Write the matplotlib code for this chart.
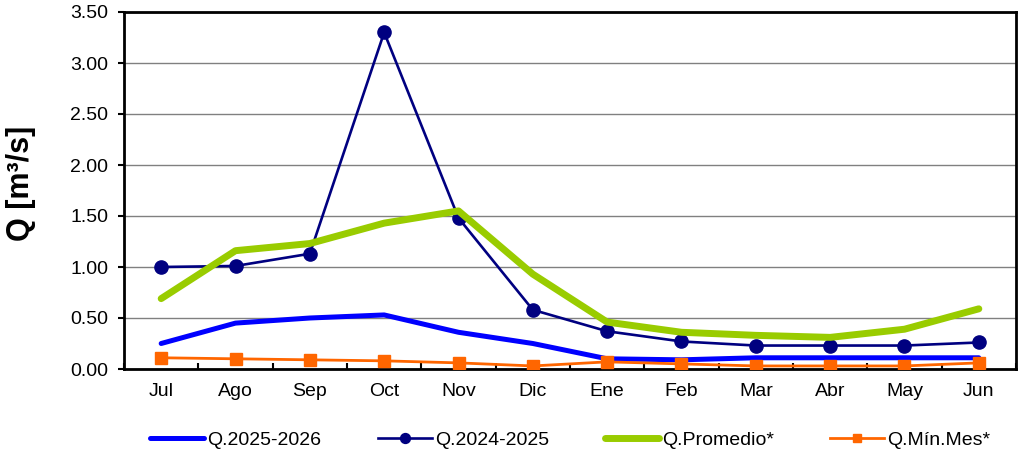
import matplotlib
matplotlib.use("Agg")
import matplotlib.pyplot as plt
import numpy as np

months = ["Jul", "Ago", "Sep", "Oct", "Nov", "Dic", "Ene", "Feb", "Mar", "Abr", "May", "Jun"]
q_2025_2026 = [0.25, 0.45, 0.50, 0.53, 0.36, 0.25, 0.10, 0.09, 0.11, 0.11, 0.11, 0.11]
q_2024_2025 = [1.00, 1.01, 1.13, 3.30, 1.48, 0.58, 0.37, 0.27, 0.23, 0.23, 0.23, 0.26]
q_promedio = [0.69, 1.16, 1.23, 1.43, 1.55, 0.93, 0.46, 0.36, 0.33, 0.31, 0.39, 0.59]
q_min_mes = [0.11, 0.10, 0.09, 0.08, 0.06, 0.03, 0.07, 0.05, 0.03, 0.03, 0.03, 0.06]
y_ticks = [0.0, 0.5, 1.0, 1.5, 2.0, 2.5, 3.0, 3.5]

plt.rcParams['font.family'] = ['Liberation Sans', 'DejaVu Sans']

W, H = 1022, 454
fig = plt.figure(figsize=(W / 100, H / 100), dpi=100)
ax = fig.add_axes([124 / W, 1 - 369 / H, (1016 - 124) / W, (369 - 12) / H])

x = np.arange(len(months))
l1, = ax.plot(x, q_2025_2026, color="#0000FF", lw=3.6, label="Q.2025-2026", solid_capstyle="round", zorder=3)
l2, = ax.plot(x, q_2024_2025, color="#000080", lw=1.9, marker="o", markersize=9.5, label="Q.2024-2025", zorder=4)
l3, = ax.plot(x, q_promedio, color="#99CC00", lw=5.0, label="Q.Promedio*", solid_capstyle="round", zorder=5)
l4, = ax.plot(x, q_min_mes, color="#FF6600", lw=2.0, marker="s", markersize=8.5, label="Q.Mín.Mes*", zorder=6)

ax.set_xlim(-0.5, len(months) - 0.5)
ax.set_ylim(0, 3.5)
ax.set_yticks(y_ticks)
ax.set_yticklabels([f"{v:.2f}" for v in y_ticks], fontsize=14)
ax.set_xticks(x)
ax.set_xticklabels(months, fontsize=14)
ax.set_xticks(np.arange(-0.5, len(months), 1), minor=True)
ax.tick_params(axis="x", which="major", length=0, pad=10)
ax.tick_params(axis="x", which="minor", length=4.5, width=1.5, direction="in")
ax.tick_params(axis="y", length=4.5, width=1.5, direction="out", pad=7)
ax.grid(axis="y", color="#808080", lw=1.0, zorder=0)
ax.set_axisbelow(True)
for s in ax.spines.values():
    s.set_linewidth(2.0)
    s.set_color("black")

fig.text(21 / W, 1 - 183 / H, "Q [m³/s]", rotation=90, fontsize=22, fontweight="bold",
         ha="center", va="center")

# legend entries, placed individually to match reference positions
handles = [l1, l2, l3, l4]
starts = [150, 378, 605, 830]
for h, xs in zip(handles, starts):
    fig.legend([h], [h.get_label()], loc="center left", bbox_to_anchor=(xs / W, 1 - 440 / H),
               frameon=False, fontsize=14, handlelength=2.8, handletextpad=0.15,
               borderpad=0, borderaxespad=0, markerscale=0.75)

fig.savefig("out.png", dpi=100)
